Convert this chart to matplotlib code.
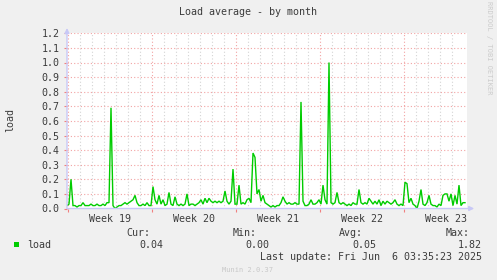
import numpy as np
import matplotlib
matplotlib.use("Agg")
import matplotlib.pyplot as plt

# ---- data (2-hourly consolidated load, sampled every 4 hours) ----
load = [
    0.02, 0.03, 0.20, 0.02, 0.02, 0.01, 0.02, 0.02, 0.04, 0.02,
    0.02, 0.02, 0.03, 0.02, 0.02, 0.03, 0.02, 0.02, 0.03, 0.02,
    0.04, 0.04, 0.69, 0.02, 0.00, 0.01, 0.02, 0.02, 0.03, 0.04,
    0.03, 0.04, 0.05, 0.06, 0.09, 0.04, 0.02, 0.02, 0.03, 0.02,
    0.04, 0.02, 0.02, 0.15, 0.06, 0.03, 0.09, 0.03, 0.06, 0.02,
    0.03, 0.11, 0.03, 0.02, 0.08, 0.03, 0.02, 0.03, 0.02, 0.03,
    0.10, 0.02, 0.03, 0.03, 0.02, 0.03, 0.04, 0.06, 0.03, 0.07,
    0.04, 0.07, 0.05, 0.04, 0.05, 0.04, 0.05, 0.04, 0.05, 0.12,
    0.05, 0.03, 0.05, 0.27, 0.03, 0.03, 0.16, 0.03, 0.04, 0.03,
    0.06, 0.07, 0.04, 0.38, 0.35, 0.10, 0.13, 0.05, 0.09, 0.04,
    0.03, 0.02, 0.01, 0.02, 0.01, 0.02, 0.02, 0.04, 0.08, 0.05,
    0.03, 0.04, 0.03, 0.03, 0.04, 0.03, 0.03, 0.73, 0.05, 0.02,
    0.02, 0.03, 0.06, 0.03, 0.03, 0.04, 0.06, 0.03, 0.16, 0.06,
    0.03, 1.00, 0.04, 0.03, 0.04, 0.11, 0.04, 0.03, 0.04, 0.03,
    0.02, 0.03, 0.02, 0.04, 0.03, 0.03, 0.13, 0.04, 0.03, 0.04,
    0.03, 0.07, 0.05, 0.03, 0.05, 0.03, 0.06, 0.02, 0.05, 0.03,
    0.05, 0.04, 0.03, 0.04, 0.06, 0.03, 0.02, 0.03, 0.02, 0.18,
    0.17, 0.04, 0.07, 0.03, 0.02, 0.00, 0.05, 0.13, 0.03, 0.02,
    0.04, 0.09, 0.03, 0.02, 0.02, 0.01, 0.03, 0.02, 0.09, 0.10,
    0.10, 0.05, 0.10, 0.02, 0.09, 0.03, 0.16, 0.02, 0.04, 0.04,
]
sample_step_h = 4
week_labels = ["Week 19", "Week 20", "Week 21", "Week 22", "Week 23"]
week_starts_h = [2, 170, 338, 506, 674]
y_ticks = [0.0, 0.1, 0.2, 0.3, 0.4, 0.5, 0.6, 0.7, 0.8, 0.9, 1.0, 1.1, 1.2]
stats_heads = ["Cur:", "Min:", "Avg:", "Max:"]
stats_vals = ["0.04", "0.00", "0.05", "1.82"]
series_name = "load"
title = "Load average - by month"
last_update = "Last update: Fri Jun  6 03:35:23 2025"

hours = np.arange(len(load)) * sample_step_h

W, H = 497, 280
BG = "#F0F0F0"
TXT = "#3c3c3c"
FONT = "DejaVu Sans Mono"
FS = 7.2
GREEN = "#00CC00"
RED_GRID = "#F2A3A3"
GRAY_GRID = "#D4D4D4"
AXIS_BLUE = "#C8C8F6"

fig = plt.figure(figsize=(W / 100, H / 100), dpi=100, facecolor=BG)

def fx(x):
    return x / W

def fy(y):
    return 1 - y / H

left, right, top, bottom = 67, 467, 33.3, 208.5
ax = fig.add_axes([fx(left), fy(bottom), (right - left) / W, (bottom - top) / H])
ax.set_facecolor("white")
ax.set_xlim(0, 800)
ax.set_ylim(0, 1.2)
for s in ax.spines.values():
    s.set_visible(False)

# grid
dot = (0, (1, 2))
for d in range(0, 34):
    h = week_starts_h[0] + 24 * d - 24
    if 0 < h < 800 and (h - week_starts_h[0]) % 168 != 0:
        ax.axvline(h, color=GRAY_GRID, lw=0.8, ls=dot, zorder=1)
for h in week_starts_h:
    ax.axvline(h, color=RED_GRID, lw=0.8, ls=dot, zorder=1.5)
for v in y_ticks[1:]:
    ax.axhline(v, color=RED_GRID, lw=0.8, ls=dot, zorder=1.5)

ax.plot(hours, load, color=GREEN, lw=1.0, zorder=3, solid_joinstyle="miter")

# axes lines with arrows
ax.annotate("", xy=(1.018, 0), xytext=(0, 0), xycoords="axes fraction",
            arrowprops=dict(arrowstyle="-|>", color=AXIS_BLUE, lw=1.0,
                            mutation_scale=7, shrinkA=0, shrinkB=0), zorder=4)
ax.annotate("", xy=(0, 1.03), xytext=(0, 0), xycoords="axes fraction",
            arrowprops=dict(arrowstyle="-|>", color=AXIS_BLUE, lw=1.0,
                            mutation_scale=7, shrinkA=0, shrinkB=0), zorder=4)

# ticks
ax.set_yticks(y_ticks)
ax.set_yticklabels([f"{v:.1f}" for v in y_ticks], fontfamily=FONT, fontsize=FS, color=TXT)
ax.tick_params(axis="y", length=2, width=0.8, color="#F08080", pad=3.5)
ax.set_xticks(week_starts_h)
ax.set_xticklabels([""] * len(week_starts_h))
ax.tick_params(axis="x", which="major", length=2, width=0.8, color="#F08080", pad=0)
ax.set_xticks([h + 84 for h in week_starts_h], minor=True)
ax.set_xticklabels(week_labels, minor=True, fontfamily=FONT, fontsize=FS, color=TXT)
ax.tick_params(axis="x", which="minor", length=0, pad=3.6)

# titles
fig.text(fx(248), fy(12), title, ha="center", va="center", fontfamily=FONT, fontsize=FS, color=TXT)
fig.text(fx(10), fy(120), series_name, ha="center", va="center", rotation=90,
         fontfamily=FONT, fontsize=FS, color=TXT)
fig.text(fx(489), fy(48), "RRDTOOL / TOBI OETIKER", ha="center", va="center", rotation=270,
         fontfamily=FONT, fontsize=5.0, color="#CCCCCC")

# legend
head_x = [150, 257, 363, 470]
val_x = [163, 269, 376, 482]
for hx, t in zip(head_x, stats_heads):
    fig.text(fx(hx), fy(233.3), t, ha="right", va="center", fontfamily=FONT, fontsize=FS, color=TXT)
for vx, t in zip(val_x, stats_vals):
    fig.text(fx(vx), fy(245), t, ha="right", va="center", fontfamily=FONT, fontsize=FS, color=TXT)
fig.patches.append(plt.Rectangle((fx(14), fy(247)), 5 / W, 5.5 / H, transform=fig.transFigure,
                                 facecolor=GREEN, edgecolor="none"))
fig.text(fx(27), fy(245), series_name, ha="left", va="center", fontfamily=FONT, fontsize=FS, color=TXT)
fig.text(fx(482), fy(256.7), last_update, ha="right", va="center", fontfamily=FONT, fontsize=FS, color=TXT)
fig.text(fx(248), fy(269.7), "Munin 2.0.37", ha="center", va="center", fontfamily=FONT,
         fontsize=5.0, color="#C8C8C8")

fig.savefig("out.png", dpi=100, facecolor=BG)
